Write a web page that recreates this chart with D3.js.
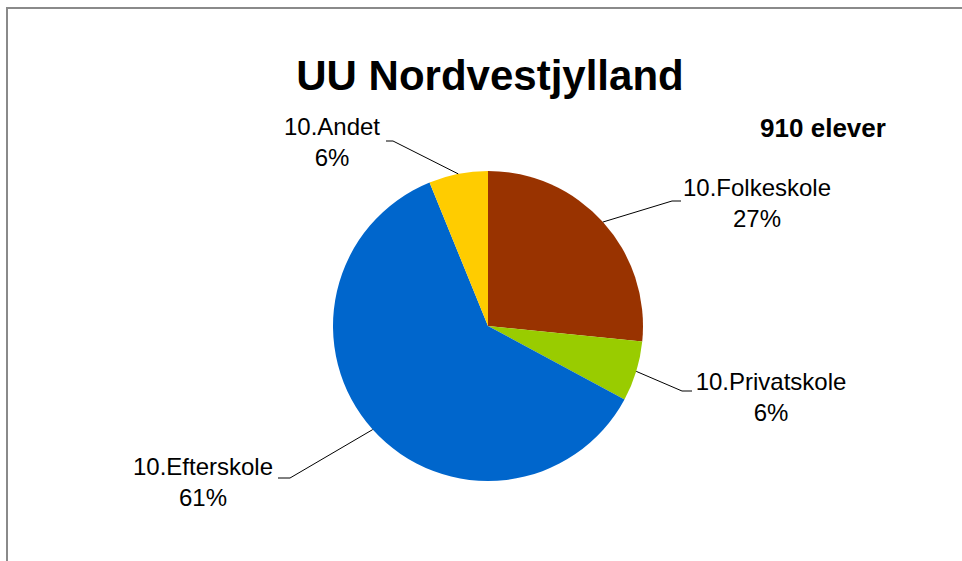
<!DOCTYPE html>
<html><head><meta charset="utf-8">
<script src="https://cdn.jsdelivr.net/npm/d3@7"></script>
<style>html,body{margin:0;padding:0;background:#fff;}svg{display:block;}</style>
</head><body>
<script>
const categories = ["10.Folkeskole", "10.Privatskole", "10.Efterskole", "10.Andet"];
const counts = [242, 57, 555, 56];
const colors = ["#993300", "#99CC00", "#0066CC", "#FFCC00"];
const title = "UU Nordvestjylland";
const subtitle = "910 elever";

const W = 962, H = 561;
const cx = 488, cy = 326, R = 155;
const font = "'Liberation Sans', Arial, sans-serif";

// label layout: knee point, end of horizontal tick, text centre x, first baseline
const labelLayout = [
  {knee:[672,201], end:[681,201], tx:757, ty:195},
  {knee:[682,391], end:[692,391], tx:771, ty:389},
  {knee:[290,478], end:[278,478], tx:203, ty:474},
  {knee:[393,141], end:[386,141], tx:332, ty:134}
];

const svg = d3.select("body").append("svg").attr("width", W).attr("height", H);

// chart border
svg.append("path").attr("d", `M7,${H} L7,8 L${W},8`)
  .attr("fill","none").attr("stroke","#8a8a8a").attr("stroke-width",2);

svg.append("text").attr("x", 490).attr("y", 90).attr("text-anchor","middle")
  .attr("font-family", font).attr("font-weight","bold").attr("font-size",42)
  .text(title);
svg.append("text").attr("x", 823).attr("y", 137).attr("text-anchor","middle")
  .attr("font-family", font).attr("font-weight","bold").attr("font-size",26)
  .text(subtitle);

const total = d3.sum(counts);
const pie = d3.pie().sort(null).value(d => d)(counts);
const arc = d3.arc().innerRadius(0).outerRadius(R);

const g = svg.append("g").attr("transform", `translate(${cx},${cy})`);
g.selectAll("path.slice").data(pie).join("path").attr("class","slice")
  .attr("d", arc).attr("fill", (d,i) => colors[i]);

const fmt = d3.format(".0%");
pie.forEach((d, i) => {
  const a = (d.startAngle + d.endAngle) / 2;
  const p = [cx + R * Math.sin(a), cy - R * Math.cos(a)];
  const L = labelLayout[i];
  svg.append("polyline")
    .attr("points", [p, L.knee, L.end].map(q => q.join(",")).join(" "))
    .attr("fill","none").attr("stroke","#000").attr("stroke-width",1);
  const t = svg.append("text").attr("text-anchor","middle")
    .attr("font-family", font).attr("font-size",24).attr("fill","#000");
  t.append("tspan").attr("x", L.tx).attr("y", L.ty + 1).text(categories[i]);
  t.append("tspan").attr("x", L.tx).attr("y", L.ty + 32).text(fmt(d.data / total));
});
</script>
</body></html>
